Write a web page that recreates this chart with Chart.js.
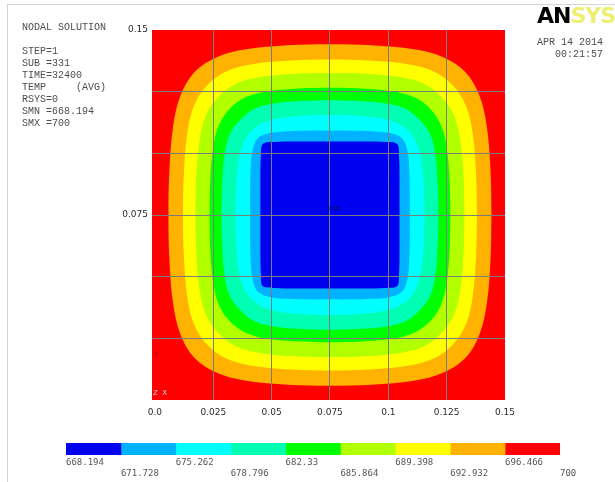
<!DOCTYPE html>
<html>
<head>
<meta charset="utf-8">
<script src="https://cdn.jsdelivr.net/npm/chart.js@4.4.0/dist/chart.umd.min.js"></script>
<style>
  body { margin: 0; background: #fff; }
  .tela { position: relative; width: 615px; height: 482px; overflow: hidden; }
  .tela canvas { position: absolute; left: 0; }
  .moldura { position: absolute; left: 7px; top: 4px; width: 700px; height: 600px; border-top: 1px solid #d4d4d4; border-left: 1px solid #d4d4d4; }
  .txt { position: absolute; font: 10px 'Liberation Mono', monospace; color: #4d4d4d; white-space: pre; line-height: 12px; }
  .logo { position: absolute; left: 537px; top: 3px; font: bold 22px 'DejaVu Sans', sans-serif; letter-spacing: -1px; white-space: pre; }
  .logo span { color: #eeee70; }
  .mini { position: absolute; font: 7px 'DejaVu Sans', sans-serif; white-space: pre; }
</style>
</head>
<body>
<div class="tela">
  <div class="moldura"></div>
  <canvas id="grafico" width="615" height="482"></canvas>
  <canvas id="escala" width="615" height="44" style="top:438px"></canvas>
  <div class="txt" style="left:22px;top:22px">NODAL SOLUTION</div>
  <div class="txt" style="left:22px;top:46px">STEP=1
SUB =331
TIME=32400
TEMP     (AVG)
RSYS=0
SMN =668.194
SMX =700</div>
  <div class="logo">AN<span>SYS</span></div>
  <div class="txt" style="right:12px;top:37px;text-align:right">APR 14 2014
   00:21:57</div>
  <div class="mini" style="left:329px;top:205px;color:#00006a">MN</div>
  <div class="mini" style="left:154px;top:351px;color:#a00000">Y</div>
  <div class="mini" style="left:153px;top:389px;color:#dddddd">Z  X</div>
</div>
<script>
const qs = s => document.querySelector(s)

// eixos
const xTicks = [0, 0.025, 0.05, 0.075, 0.1, 0.125, 0.15]
const xTickLabels = ['0.0', '0.025', '0.05', '0.075', '0.1', '0.125', '0.15']
const yTicks = [0, 0.025, 0.05, 0.075, 0.1, 0.125, 0.15]
const yTickLabels = ['', '', '', '0.075', '', '', '0.15']

// faixas de temperatura (legenda)
const levels = [668.194, 671.728, 675.262, 678.796, 682.33, 685.864, 689.398, 692.932, 696.466, 700]
const levelLabels = ['668.194', '671.728', '675.262', '678.796', '682.33', '685.864', '689.398', '692.932', '696.466', '700']
const bandColors = ['#0000f0', '#00b2ff', '#00ffff', '#00ffb2', '#00ff00', '#b2ff00', '#ffff00', '#ffb200', '#ff0000']

// centro da placa e um quarto do contorno externo de cada faixa (da direita ate o topo)
const centro = { x: 0.075, y: 0.075 }
const bandQuarters = [
  [[0.0298, 0], [0.0298, 0.008], [0.0298, 0.016], [0.0296, 0.0235], [0.0288, 0.0288], [0.0235, 0.0296], [0.016, 0.0298], [0.008, 0.0298], [0, 0.0298]],
  [[0.0342, 0], [0.0342, 0.009], [0.034, 0.018], [0.0333, 0.0255], [0.031, 0.031], [0.0255, 0.0333], [0.018, 0.034], [0.009, 0.0342], [0, 0.0342]],
  [[0.0405, 0], [0.0403, 0.0105], [0.0393, 0.0211], [0.0374, 0.0284], [0.0339, 0.0339], [0.0284, 0.0374], [0.0211, 0.0393], [0.0105, 0.0403], [0, 0.0405]],
  [[0.0465, 0], [0.0462, 0.0121], [0.0452, 0.0242], [0.043, 0.0326], [0.0385, 0.0385], [0.0326, 0.043], [0.0242, 0.0452], [0.0121, 0.0462], [0, 0.0465]],
  [[0.0516, 0], [0.0513, 0.0134], [0.0501, 0.0269], [0.0477, 0.0362], [0.043, 0.043], [0.0362, 0.0477], [0.0269, 0.0501], [0.0134, 0.0513], [0, 0.0516]],
  [[0.0576, 0], [0.0573, 0.015], [0.0559, 0.03], [0.0532, 0.0403], [0.0478, 0.0478], [0.0403, 0.0532], [0.03, 0.0559], [0.015, 0.0573], [0, 0.0576]],
  [[0.063, 0], [0.0626, 0.0164], [0.0612, 0.0328], [0.0583, 0.0442], [0.0526, 0.0526], [0.0442, 0.0583], [0.0328, 0.0612], [0.0164, 0.0626], [0, 0.063]],
  [[0.0692, 0], [0.0688, 0.018], [0.0672, 0.036], [0.064, 0.0485], [0.058, 0.058], [0.0485, 0.064], [0.036, 0.0672], [0.018, 0.0688], [0, 0.0692]]
]

const corGrade = '#7c7c7c'

// espelha o quarto nos quatro quadrantes e fecha o contorno
const montarContorno = quarto => {
  const volta = [...quarto].reverse()
  const partes = [
    quarto,
    volta.slice(1).map(([dx, dy]) => [-dx, dy]),
    quarto.slice(1).map(([dx, dy]) => [-dx, -dy]),
    volta.slice(1).map(([dx, dy]) => [dx, -dy])
  ]
  return partes.flat().map(([dx, dy]) => ({ x: centro.x + dx, y: centro.y + dy }))
}

const fundoVermelho = {
  id: 'fundoVermelho',
  beforeDatasetsDraw(chart) {
    const { ctx, chartArea: a } = chart
    ctx.save()
    ctx.fillStyle = bandColors[8]
    ctx.fillRect(a.left, a.top, a.right - a.left, a.bottom - a.top)
    ctx.restore()
  }
}

const semBorda = c => (c.tick && (c.tick.value <= 0 || c.tick.value >= 0.15)) ? 'rgba(0,0,0,0)' : corGrade

const criarGraficoContorno = () => {
  const datasets = bandQuarters.map((q, i) => ({
    label: levelLabels[i] + ' - ' + levelLabels[i + 1],
    data: montarContorno(q),
    backgroundColor: bandColors[i],
    borderColor: bandColors[i],
    borderWidth: 0,
    pointRadius: 0,
    fill: 'shape',
    tension: 0.35
  }))

  new Chart(qs('#grafico'), {
    type: 'line',
    data: { datasets },
    plugins: [fundoVermelho],
    options: {
      responsive: false,
      devicePixelRatio: 1,
      animation: false,
      layout: { padding: { left: 0, top: 30, right: 110, bottom: 0 } },
      plugins: { legend: { display: false }, tooltip: { enabled: false } },
      scales: {
        x: {
          type: 'linear',
          min: -0.00125,
          max: 0.15,
          z: 1,
          afterBuildTicks: s => { s.ticks = xTicks.map(v => ({ value: v })) },
          afterFit: s => { s.height = 82 },
          border: { display: false },
          grid: { color: semBorda, lineWidth: 1, drawTicks: false, z: 1 },
          ticks: {
            autoSkip: false,
            maxRotation: 0,
            padding: 7,
            color: '#2a2a2a',
            font: { family: 'DejaVu Sans', size: 9 },
            callback: (v, i) => xTickLabels[i]
          }
        },
        y: {
          type: 'linear',
          min: 0,
          max: 0.15,
          z: 1,
          afterBuildTicks: s => { s.ticks = yTicks.map(v => ({ value: v })) },
          afterFit: s => { s.width = 152 },
          border: { display: false },
          grid: { color: semBorda, lineWidth: 1, drawTicks: false, z: 1 },
          ticks: {
            autoSkip: false,
            padding: 4,
            color: '#2a2a2a',
            font: { family: 'DejaVu Sans', size: 9 },
            callback: (v, i) => yTickLabels[i]
          }
        }
      }
    }
  })
}

const criarEscalaCores = () => {
  new Chart(qs('#escala'), {
    type: 'bar',
    data: {
      labels: ['TEMP'],
      datasets: bandColors.map((c, i) => ({
        label: levelLabels[i],
        data: [[levels[i], levels[i + 1]]],
        backgroundColor: c,
        borderWidth: 0,
        barPercentage: 1,
        categoryPercentage: 1,
        grouped: false
      }))
    },
    options: {
      indexAxis: 'y',
      responsive: false,
      devicePixelRatio: 1,
      animation: false,
      layout: { padding: { left: 66, top: 5, right: 55, bottom: 0 } },
      plugins: { legend: { display: false }, tooltip: { enabled: false } },
      scales: {
        x: {
          type: 'linear',
          min: levels[0],
          max: levels[levels.length - 1],
          afterBuildTicks: s => { s.ticks = levels.map(v => ({ value: v })) },
          afterFit: s => { s.height = 27 },
          border: { display: false },
          grid: { display: false, drawTicks: false },
          ticks: {
            autoSkip: false,
            maxRotation: 0,
            align: 'start',
            padding: 2,
            color: '#555',
            font: { family: 'DejaVu Sans Mono', size: 9 },
            callback: (v, i) => i % 2 ? ['', levelLabels[i]] : levelLabels[i]
          }
        },
        y: { display: false }
      }
    }
  })
}

criarGraficoContorno()
criarEscalaCores()
</script>
</body>
</html>
